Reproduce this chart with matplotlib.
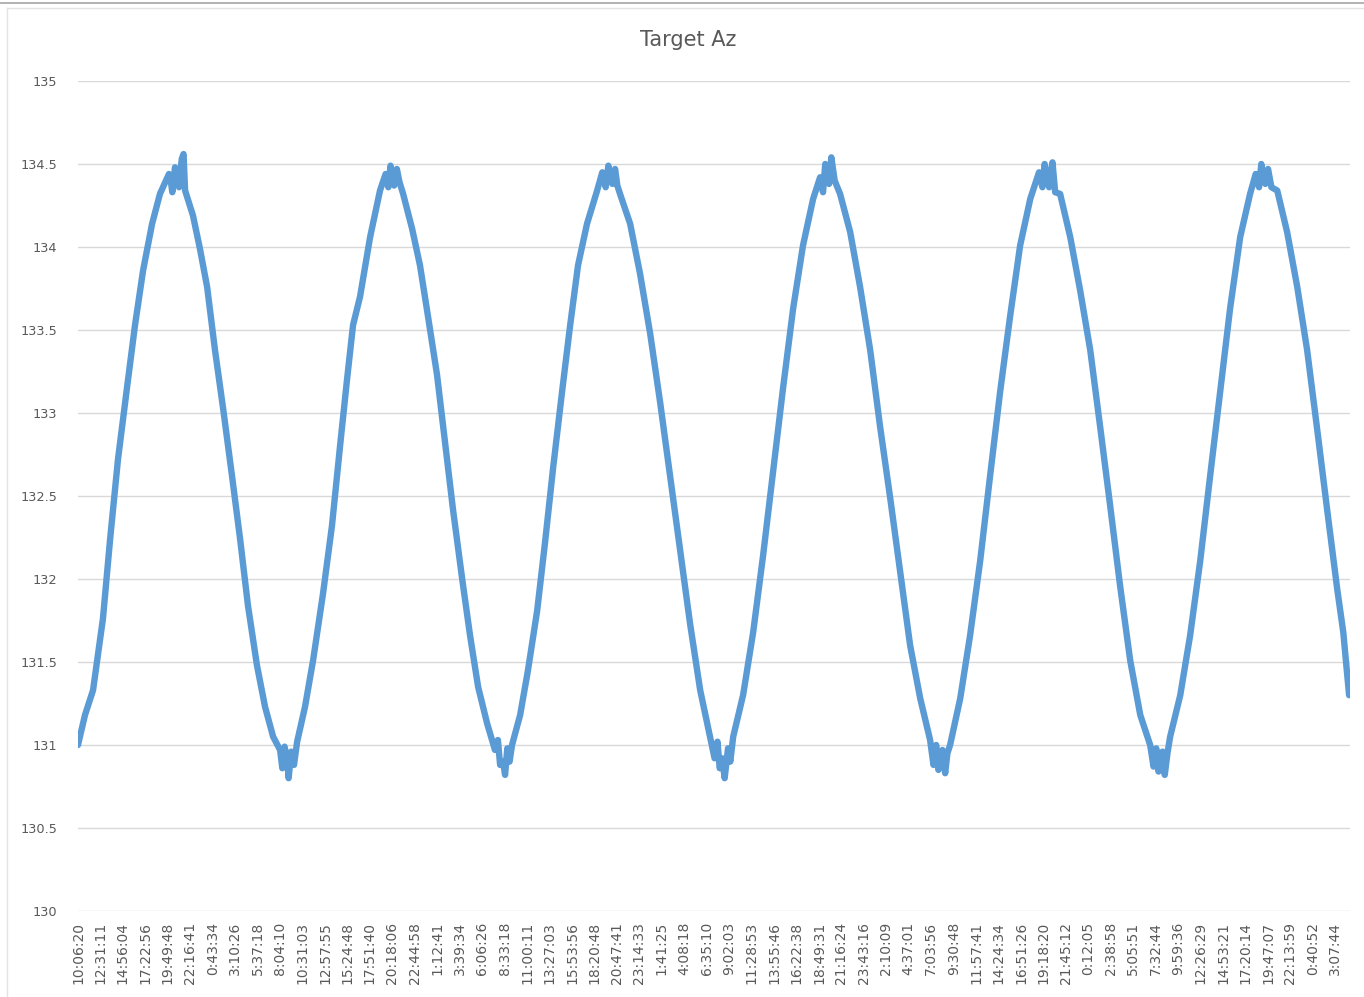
import matplotlib
matplotlib.use("Agg")
import matplotlib.pyplot as plt
from matplotlib.lines import Line2D

# tick labels along the category axis (every 2h25m roughly)
time_labels = ['10:06:20', '12:31:11', '14:56:04', '17:22:56', '19:49:48', '22:16:41',
               '0:43:34', '3:10:26', '5:37:18', '8:04:10', '10:31:03', '12:57:55',
               '15:24:48', '17:51:40', '20:18:06', '22:44:58', '1:12:41', '3:39:34',
               '6:06:26', '8:33:18', '11:00:11', '13:27:03', '15:53:56', '18:20:48',
               '20:47:41', '23:14:33', '1:41:25', '4:08:18', '6:35:10', '9:02:03',
               '11:28:53', '13:55:46', '16:22:38', '18:49:31', '21:16:24', '23:43:16',
               '2:10:09', '4:37:01', '7:03:56', '9:30:48', '11:57:41', '14:24:34',
               '16:51:26', '19:18:20', '21:45:12', '0:12:05', '2:38:58', '5:05:51',
               '7:32:44', '9:59:36', '12:26:29', '14:53:21', '17:20:14', '19:47:07',
               '22:13:59', '0:40:52', '3:07:44']

# position along the category axis (in label steps) and target azimuth
pos = [0.00, 0.31, 0.67, 1.11, 1.43, 1.78, 2.18, 2.54, 2.90, 3.30, 3.65, 4.10,
       4.41, 4.77, 5.12, 5.43, 5.75, 6.10, 6.46, 6.86, 7.22, 7.57, 7.97, 8.33,
       8.69, 9.00, 9.31, 9.76, 10.11, 10.47, 10.91, 11.31, 11.67, 11.98, 12.25,
       12.56, 13.01, 13.45, 13.99, 14.48, 14.88, 15.23, 15.59, 15.99, 16.35,
       16.70, 17.10, 17.46, 17.82, 18.22, 18.57, 18.93, 19.33, 19.69, 20.04,
       20.45, 20.80, 21.16, 21.56, 21.92, 22.27, 22.67, 23.12, 23.70, 24.14,
       24.59, 25.03, 25.48, 25.92, 26.37, 26.82, 27.26, 27.71, 28.15, 28.69,
       29.18, 29.62, 30.07, 30.51, 30.96, 31.40, 31.85, 32.29, 32.74, 33.36,
       33.94, 34.39, 34.83, 35.28, 35.72, 36.17, 36.61, 37.06, 37.51, 37.95,
       38.40, 38.84, 39.29, 39.73, 40.18, 40.62, 41.07, 41.51, 41.96, 42.41,
       43.16, 43.74, 44.19, 44.63, 45.08, 45.52, 45.97, 46.41, 46.86, 47.31,
       47.75, 48.20, 48.64, 49.09, 49.53, 49.98, 50.42, 50.87, 51.31, 51.76,
       52.20, 52.78, 53.41, 53.85, 54.30, 54.74, 55.19, 55.63, 56.08, 56.35,
       56.61]
target_az = [131.00, 131.18, 131.33, 131.76, 132.24, 132.72, 133.15, 133.53, 133.86,
             134.14, 134.32, 134.43, 134.42, 134.34, 134.19, 133.99, 133.76, 133.38,
             133.03, 132.62, 132.24, 131.84, 131.48, 131.23, 131.05, 130.97, 130.92,
             131.02, 131.23, 131.51, 131.91, 132.32, 132.80, 133.20, 133.53, 133.70,
             134.06, 134.34, 134.42, 134.32, 134.11, 133.89, 133.58, 133.23, 132.82,
             132.42, 132.01, 131.66, 131.35, 131.13, 130.97, 130.90, 131.00, 131.18,
             131.45, 131.81, 132.22, 132.67, 133.13, 133.53, 133.89, 134.14, 134.34,
             134.42, 134.32, 134.14, 133.84, 133.48, 133.07, 132.62, 132.17, 131.73,
             131.33, 131.05, 130.92, 131.05, 131.30, 131.68, 132.14, 132.65, 133.15,
             133.63, 134.01, 134.29, 134.43, 134.32, 134.09, 133.76, 133.38, 132.92,
             132.49, 132.05, 131.60, 131.28, 131.03, 130.92, 131.00, 131.28, 131.66,
             132.11, 132.62, 133.13, 133.58, 134.01, 134.29, 134.42, 134.32, 134.06,
             133.74, 133.38, 132.92, 132.44, 131.96, 131.51, 131.18, 131.00, 130.91,
             131.05, 131.30, 131.66, 132.11, 132.62, 133.13, 133.63, 134.06, 134.32,
             134.43, 134.34, 134.09, 133.76, 133.38, 132.90, 132.42, 131.94, 131.68,
             131.30]

# jitter seen around the peaks and troughs
jit_pos = [4.05, 4.20, 4.32, 4.50, 4.62, 4.70, 4.76,
           13.70, 13.82, 13.92, 14.08, 14.20, 14.32,
           23.35, 23.50, 23.62, 23.80, 23.92, 24.02,
           33.05, 33.18, 33.28, 33.45, 33.55, 33.70,
           42.80, 42.95, 43.05, 43.25, 43.40, 43.52,
           52.45, 52.60, 52.70, 52.88, 53.00, 53.15,
           9.10, 9.20, 9.38, 9.50, 9.62,
           18.70, 18.80, 19.02, 19.12, 19.22,
           28.35, 28.48, 28.58, 28.80, 28.95, 29.05,
           38.10, 38.22, 38.32, 38.50, 38.62, 38.72,
           47.90, 48.02, 48.12, 48.30, 48.40, 48.52]
jit_az = [134.44, 134.33, 134.48, 134.36, 134.53, 134.56, 134.38,
          134.44, 134.36, 134.49, 134.37, 134.47, 134.39,
          134.45, 134.36, 134.49, 134.38, 134.47, 134.37,
          134.42, 134.33, 134.50, 134.38, 134.54, 134.40,
          134.45, 134.36, 134.50, 134.36, 134.51, 134.33,
          134.44, 134.36, 134.50, 134.38, 134.47, 134.36,
          130.86, 130.99, 130.80, 130.96, 130.88,
          131.03, 130.88, 130.82, 130.98, 130.90,
          130.92, 131.02, 130.86, 130.80, 130.98, 130.90,
          130.88, 131.00, 130.85, 130.97, 130.83, 130.95,
          130.87, 130.98, 130.84, 130.96, 130.82, 130.95]

series = sorted(zip(pos + jit_pos, target_az + jit_az))
xs = [p for p, v in series]
ys = [v for p, v in series]

plt.rcParams['font.family'] = ['DejaVu Sans']

fig = plt.figure(figsize=(13.64, 9.97), dpi=100)
ax = fig.add_axes([78 / 1364, 1 - 911 / 997, (1350 - 78) / 1364, (911 - 81) / 997])

ax.plot(xs, ys, color='#5B9BD5', linewidth=4.6,
        solid_joinstyle='round', solid_capstyle='round', zorder=3)

ax.set_ylim(130, 135)
ax.set_xlim(0, 56.65)
ax.set_yticks([130, 130.5, 131, 131.5, 132, 132.5, 133, 133.5, 134, 134.5, 135])
ax.set_yticklabels(['130', '130.5', '131', '131.5', '132', '132.5', '133',
                    '133.5', '134', '134.5', '135'])
ax.set_xticks(range(len(time_labels)))
ax.set_xticklabels(time_labels, rotation=90)
ax.tick_params(axis='both', length=0, labelcolor='#595959')
ax.tick_params(axis='x', pad=8, labelsize=10)
ax.tick_params(axis='y', pad=15, labelsize=9.3)
ax.grid(axis='y', color='#d9d9d9', linewidth=1.0, zorder=0)
for s in ax.spines.values():
    s.set_visible(False)

fig.text(688 / 1364, 1 - 40 / 997, 'Target Az', ha='center', va='center',
         fontsize=15, color='#595959')

# chart frame
fig.add_artist(Line2D([0, 1], [1 - 3 / 997, 1 - 3 / 997], color='#a6a6a6', linewidth=1.2))
fig.add_artist(Line2D([7 / 1364, 7 / 1364], [0, 1 - 8 / 997], color='#e3e3e3', linewidth=1.0))
fig.add_artist(Line2D([7 / 1364, 1], [1 - 8 / 997, 1 - 8 / 997], color='#e3e3e3', linewidth=1.0))

fig.savefig('out.png', dpi=100)
